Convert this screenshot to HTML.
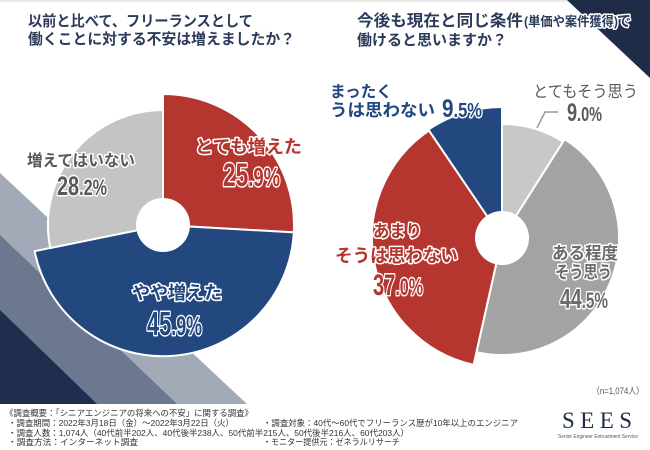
<!DOCTYPE html>
<html><head><meta charset="utf-8">
<style>
html,body{margin:0;padding:0;background:#fff;}
svg{display:block;}
.jp{font-family:"Liberation Sans","Noto Sans CJK JP",sans-serif;}
.num{font-family:"Liberation Sans Narrow","Liberation Sans",sans-serif;font-weight:700;}
.ol{stroke:#fff;stroke-width:3;paint-order:stroke;stroke-linejoin:round;}
</style></head>
<body>
<svg width="650" height="450" viewBox="0 0 650 450" xmlns="http://www.w3.org/2000/svg">
<rect width="650" height="450" fill="#fff"/>
<rect width="650" height="2" fill="#e9e9e9"/>
<!-- background stripes -->
<polygon points="0,173 247,404 0,404" fill="#a2aab8"/>
<polygon points="0,235 177,404 0,404" fill="#6b788f"/>
<polygon points="0,310 97,404 0,404" fill="#1f2e4f"/>
<polygon points="567,0 650,0 650,78" fill="#1f2c48"/>

<!-- titles -->
<g class="jp ol" font-weight="700" fill="#2c3b5a" font-size="15">
<text x="28" y="26" textLength="225" lengthAdjust="spacingAndGlyphs">以前と比べて、フリーランスとして</text>
<text x="28" y="44" textLength="267" lengthAdjust="spacingAndGlyphs">働くことに対する不安は増えましたか？</text>
<text x="357" y="26" textLength="166" lengthAdjust="spacingAndGlyphs" font-size="16">今後も現在と同じ条件</text>
<text x="524" y="26" textLength="94" lengthAdjust="spacingAndGlyphs" font-size="13">(単価や案件獲得)</text>
<text x="617" y="26" textLength="14" lengthAdjust="spacingAndGlyphs" font-size="15">で</text>
<text x="357" y="45" textLength="150" lengthAdjust="spacingAndGlyphs">働けると思いますか？</text>
</g>

<!-- left pie -->
<g stroke="#fff" stroke-width="2" stroke-linejoin="round">
<path d="M163,225 L163,94 A131,131 0 0 1 293.8,232.4 Z" fill="#b5352f"/>
<path d="M163,225 L293.8,232.4 A131,131 0 0 1 34.6,251.2 Z" fill="#23477f"/>
<path d="M163,225 L50.3,248 A115,115 0 0 1 163,110 Z" fill="#c4c4c4"/>
</g>
<circle cx="163" cy="225" r="27" fill="#fff"/>

<!-- right pie -->
<g stroke="#fff" stroke-width="2" stroke-linejoin="round">
<path d="M502,238 L502,124 A114,114 0 0 1 563.1,141.7 Z" fill="#c8c8c8"/>
<path d="M502,238 L564.7,139.2 A117,117 0 0 1 476.5,352.2 Z" fill="#a3a3a3"/>
<path d="M502,238 L473.6,364.9 A130,130 0 0 1 428.9,130.5 Z" fill="#b5352f"/>
<path d="M502,238 L428.4,129.6 A131,131 0 0 1 502,107 Z" fill="#23477f"/>
</g>
<circle cx="502" cy="238" r="27" fill="#fff"/>

<!-- left labels -->
<g class="jp ol" font-weight="700">
<text x="195" y="153" font-size="18" fill="#b5352f" textLength="107" lengthAdjust="spacingAndGlyphs">とても増えた</text>
<text x="27" y="166" font-size="16" fill="#595959" textLength="108" lengthAdjust="spacingAndGlyphs">増えてはいない</text>
<text x="132" y="299" font-size="18" fill="#23477f" textLength="90" lengthAdjust="spacingAndGlyphs">やや増えた</text>
</g>
<g class="num ol">
<text x="223" y="186" fill="#b5352f" textLength="57" lengthAdjust="spacingAndGlyphs"><tspan font-size="32">25</tspan><tspan font-size="26">.9%</tspan></text>
<text x="57" y="195" fill="#595959" textLength="50" lengthAdjust="spacingAndGlyphs"><tspan font-size="27">28</tspan><tspan font-size="22">.2%</tspan></text>
<text x="147" y="335" fill="#23477f" textLength="55" lengthAdjust="spacingAndGlyphs"><tspan font-size="33">45</tspan><tspan font-size="27">.9%</tspan></text>
</g>

<!-- right labels -->
<g class="jp" font-weight="700" fill="#23477f">
<text x="330" y="97" font-size="16" textLength="62" lengthAdjust="spacingAndGlyphs">まったく</text>
<text x="330" y="116" font-size="17" textLength="105" lengthAdjust="spacingAndGlyphs">うは思わない</text>
</g>
<text class="num ol" x="442" y="117" fill="#23477f" textLength="40" lengthAdjust="spacingAndGlyphs"><tspan font-size="25">9</tspan><tspan font-size="20">.5%</tspan></text>
<text class="jp" x="533" y="97" font-size="16" fill="#5a5a5a" textLength="105" lengthAdjust="spacingAndGlyphs">とてもそう思う</text>
<text class="num" x="567" y="121" fill="#5a5a5a" font-weight="400" textLength="35" lengthAdjust="spacingAndGlyphs"><tspan font-size="25">9</tspan><tspan font-size="20">.0%</tspan></text>
<polyline points="558,112 545,112 537,128" fill="none" stroke="#999" stroke-width="1.5"/>

<g class="jp ol" font-weight="700">
<text x="552" y="259" font-size="17" fill="#6a6a6a" textLength="66" lengthAdjust="spacingAndGlyphs">ある程度</text>
<text x="555" y="278" font-size="17" fill="#6a6a6a" textLength="57" lengthAdjust="spacingAndGlyphs">そう思う</text>
<text x="373" y="237" font-size="17" fill="#b5352f" textLength="49" lengthAdjust="spacingAndGlyphs">あまり</text>
<text x="335" y="262" font-size="18" fill="#b5352f" textLength="123" lengthAdjust="spacingAndGlyphs">そうは思わない</text>
</g>
<g class="num ol">
<text x="560" y="308" fill="#6a6a6a" textLength="48" lengthAdjust="spacingAndGlyphs"><tspan font-size="28">44</tspan><tspan font-size="22">.5%</tspan></text>
<text x="373" y="295" fill="#b5352f" textLength="50" lengthAdjust="spacingAndGlyphs"><tspan font-size="30">37</tspan><tspan font-size="24">.0%</tspan></text>
</g>

<text class="jp" x="592" y="394" font-size="9" fill="#555" textLength="52" lengthAdjust="spacingAndGlyphs">（n=1,074人）</text>

<!-- notes -->
<g class="jp" font-size="8.5" fill="#333">
<text x="5" y="416" textLength="248" lengthAdjust="spacingAndGlyphs">《調査概要：「シニアエンジニアの将来への不安」に関する調査》</text>
<text x="8" y="426" textLength="226" lengthAdjust="spacingAndGlyphs">・調査期間：2022年3月18日（金）～2022年3月22日（火）</text>
<text x="263" y="426" textLength="255" lengthAdjust="spacingAndGlyphs">・調査対象：40代～60代でフリーランス歴が10年以上のエンジニア</text>
<text x="8" y="436" textLength="401" lengthAdjust="spacingAndGlyphs">・調査人数：1,074人（40代前半202人、40代後半238人、50代前半215人、50代後半216人、60代203人）</text>
<text x="8" y="445" textLength="130" lengthAdjust="spacingAndGlyphs">・調査方法：インターネット調査</text>
<text x="263" y="445" textLength="137" lengthAdjust="spacingAndGlyphs">・モニター提供元：ゼネラルリサーチ</text>
</g>

<!-- logo -->
<text x="562" y="428" font-family="Liberation Serif, serif" font-size="23" fill="#1f2c48" textLength="70" lengthAdjust="spacing">SEES</text>
<text x="558" y="438" font-family="Liberation Sans, sans-serif" font-size="5.5" fill="#555" textLength="80" lengthAdjust="spacingAndGlyphs">Senior Engineer Entrustment Service</text>
</svg>
</body></html>
